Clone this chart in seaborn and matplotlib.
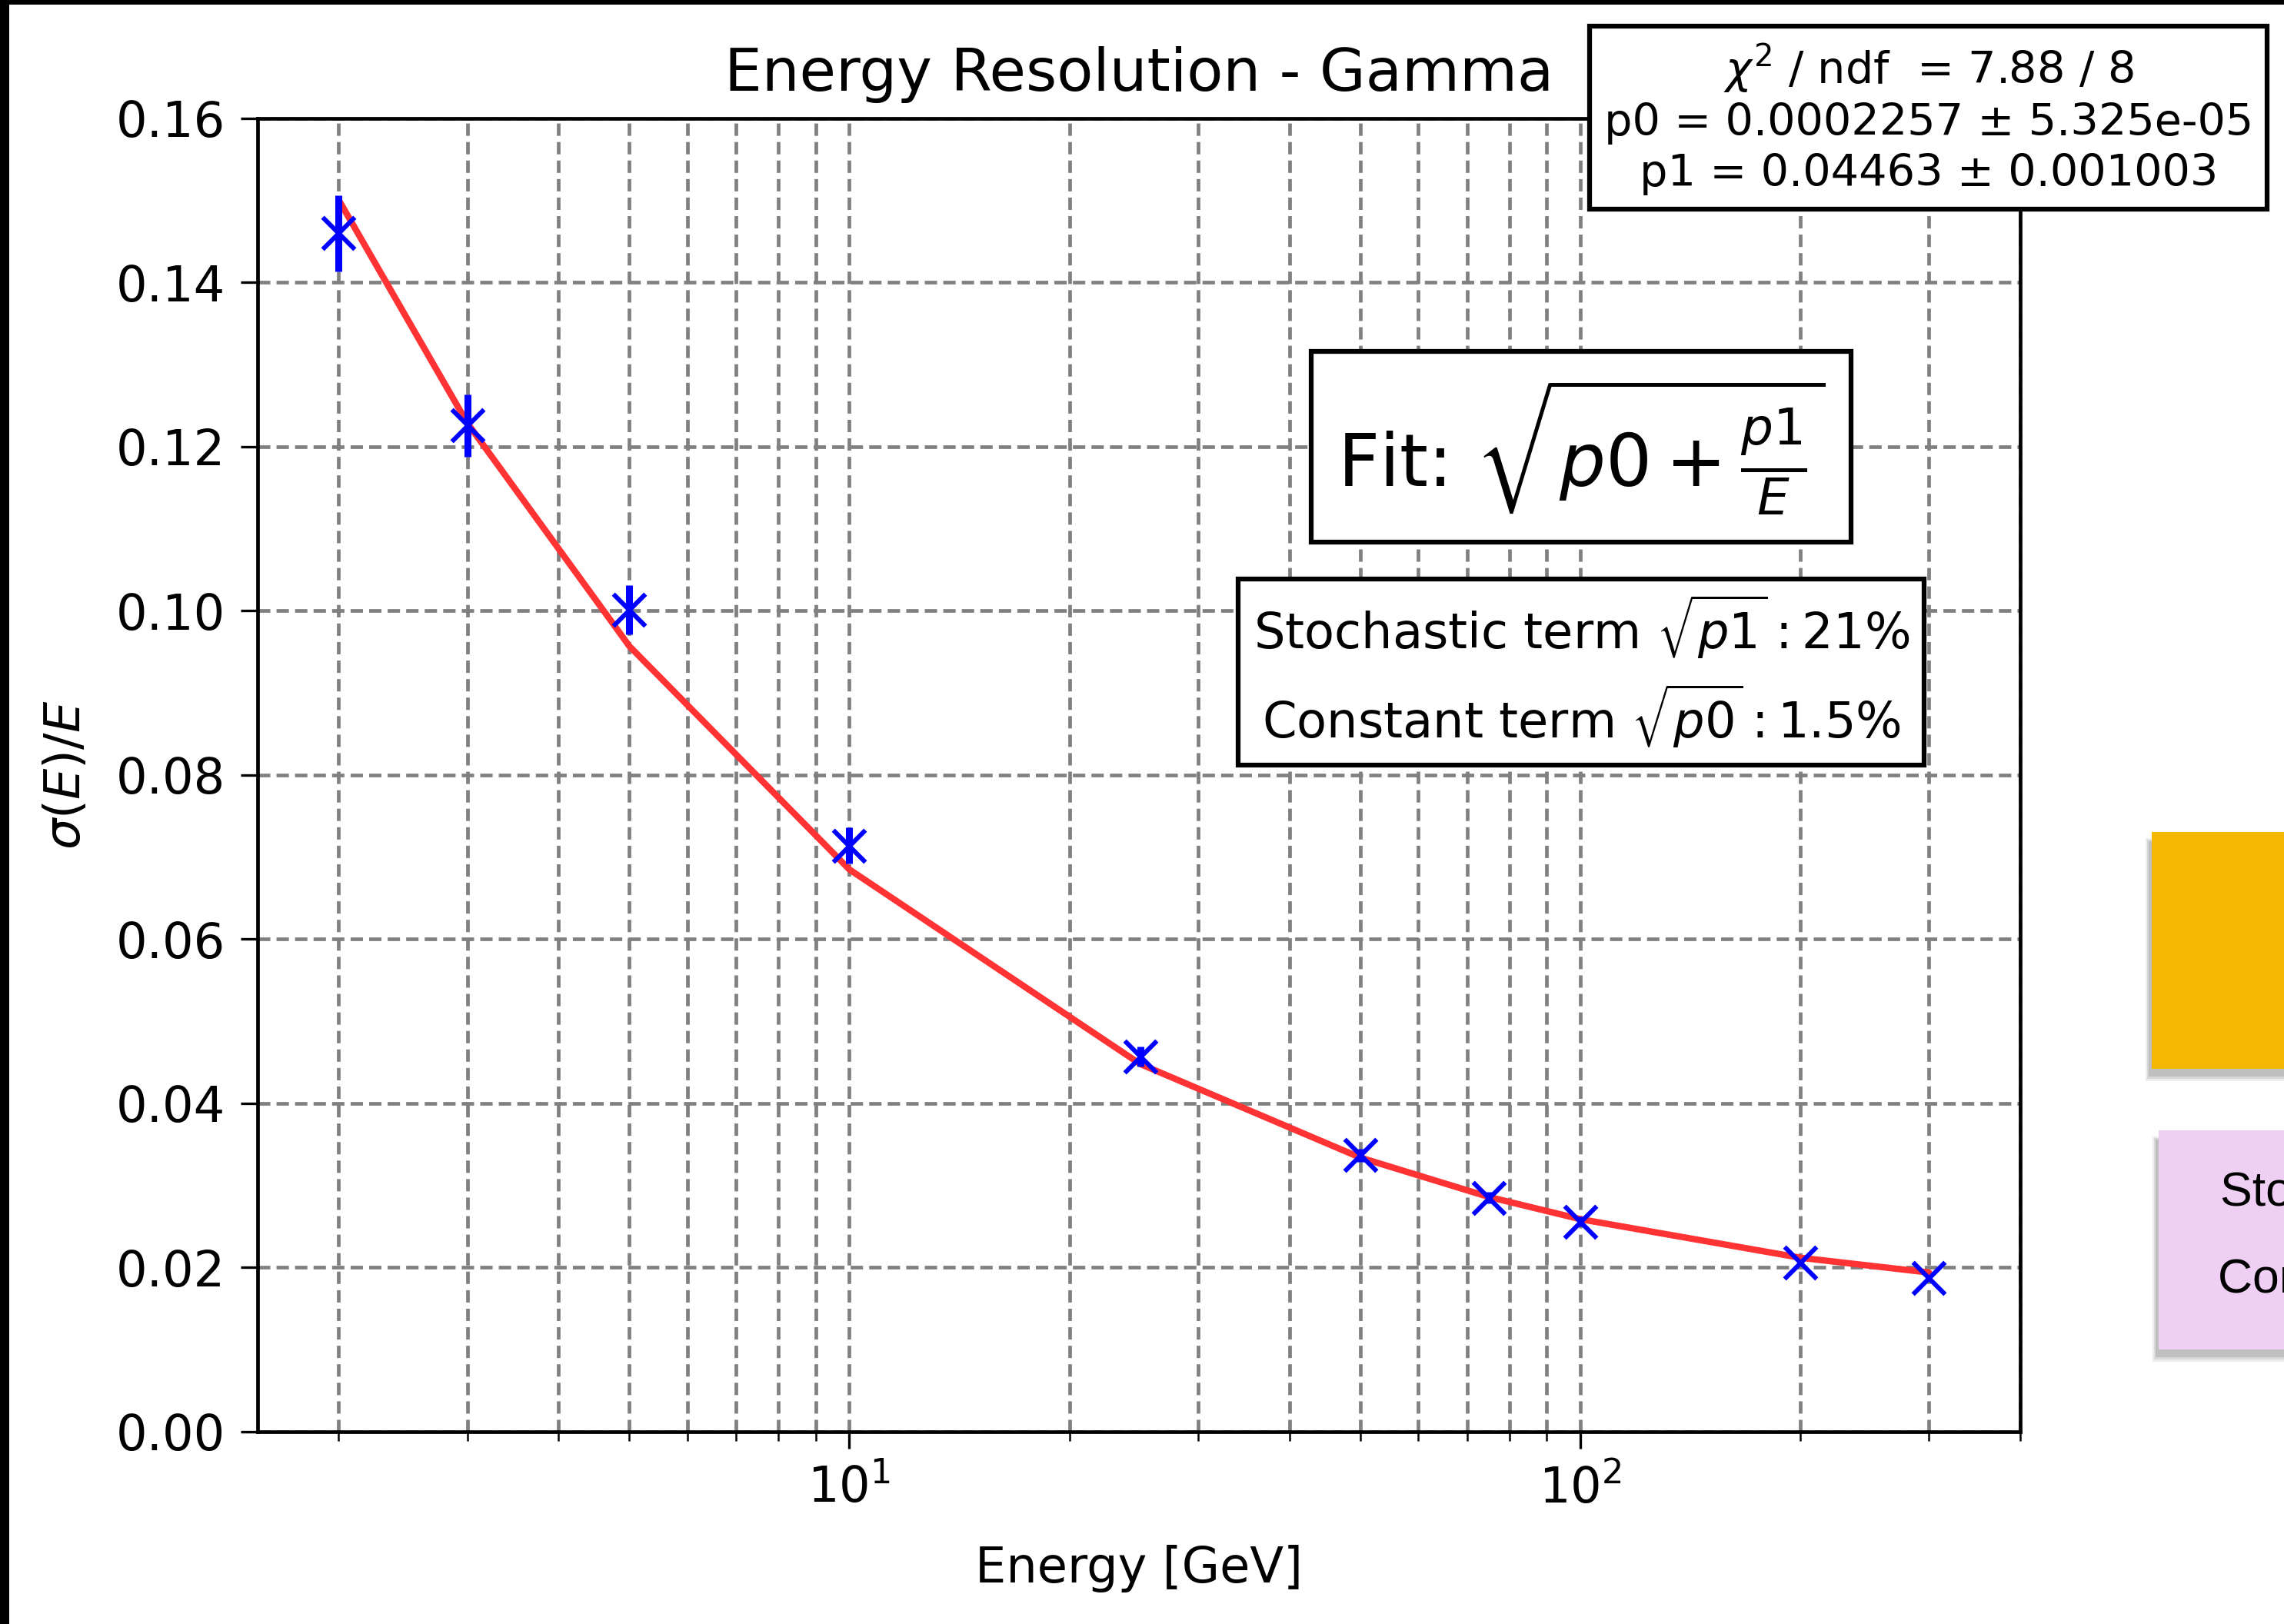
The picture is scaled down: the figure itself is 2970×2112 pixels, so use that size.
import numpy as np
import matplotlib
matplotlib.use("Agg")
import matplotlib.pyplot as plt
import seaborn as sns
from matplotlib.patches import Rectangle

# data
energy = [2, 3, 5, 10, 25, 50, 75, 100, 200, 300]
resolution = [0.1460, 0.1226, 0.1001, 0.0714, 0.0457, 0.0337, 0.0285, 0.0256, 0.0206, 0.0187]
res_err = [0.0046, 0.0038, 0.0030, 0.0022, 0.0012, 0.0008, 0.0007, 0.0006, 0.0004, 0.0003]
fit_curve = [0.1501, 0.1229, 0.0957, 0.0685, 0.0448, 0.0334, 0.0286, 0.0259, 0.0212, 0.0194]
y_ticks = [0.00, 0.02, 0.04, 0.06, 0.08, 0.10, 0.12, 0.14, 0.16]

stats_lines = [r"$\chi^2$ / ndf  = 7.88 / 8",
               "p0 = 0.0002257 ± 5.325e-05",
               "p1 = 0.04463 ± 0.001003"]
fit_label = r"Fit: $\sqrt{p0 + \frac{p1}{E}}$"
term_lines = [r"Stochastic term $\sqrt{p1}:21\%$",
              r"Constant term $\sqrt{p0}:1.5\%$"]
side_lines = ["Stochastic term", "Constant term"]

sns.set_style("white")
plt.rcParams['font.family'] = ['DejaVu Sans']
plt.rcParams['mathtext.fontset'] = 'dejavusans'
for key in ['text.color', 'axes.labelcolor', 'xtick.color', 'ytick.color']:
    plt.rcParams[key] = 'black'

fig = plt.figure(figsize=(29.7, 21.12), dpi=100)
fig.patch.set_facecolor('white')
ax = fig.add_axes([0.1128, 0.1184, 0.8845 - 0.1128, 0.9271 - 0.1184])

# fit curve and measured points
sns.lineplot(x=energy, y=fit_curve, color='#ff3333', linewidth=6, sort=False,
             estimator=None, ax=ax, zorder=3)
ax.errorbar(energy, resolution, yerr=res_err, fmt='none', ecolor='blue',
            elinewidth=6.5, capsize=0, zorder=4)
sns.scatterplot(x=energy, y=resolution, marker='x', color='blue', s=30 ** 2,
                linewidth=4.3, ax=ax, zorder=5)

ax.set_xscale('log')
ax.set_xlim(1.55, 400)
ax.set_ylim(0, 0.16)
ax.set_yticks(y_ticks)

grid_style = dict(color='gray', linestyle=(0, (3.4, 1.7)), linewidth=3.4)
ax.grid(True, which='both', axis='x', **grid_style)
ax.grid(True, which='major', axis='y', **grid_style)

for sp in ax.spines.values():
    sp.set_linewidth(3.4)
    sp.set_color('black')
ax.tick_params(which='major', length=15.6, width=2.4, pad=15, labelsize=46,
               direction='out', bottom=True, left=True)
ax.tick_params(which='minor', length=8.6, width=1.8, direction='out', bottom=True)

ax.set_title('Energy Resolution - Gamma', fontsize=55.5, pad=26)
ax.set_xlabel('Energy [GeV]', fontsize=46, labelpad=30)
ax.set_ylabel(r'$\sigma(E)/E$', fontsize=46, labelpad=24)

box = dict(boxstyle='square,pad=0.32', facecolor='white', edgecolor='black', linewidth=4.5)
ax.text(0.948, 1.0, '\n'.join(stats_lines), transform=ax.transAxes, ha='center',
        va='center', multialignment='center', fontsize=41.3, linespacing=1.24,
        bbox=box, zorder=10)
ax.text(0.751, 0.750, fit_label, transform=ax.transAxes, ha='center', va='center',
        fontsize=68, bbox=dict(box, boxstyle='square,pad=0.36'), zorder=10)
ax.text(0.751, 0.5785, '\n'.join(term_lines), transform=ax.transAxes, ha='center',
        va='center', multialignment='center', fontsize=46, linespacing=1.38,
        bbox=dict(box, boxstyle='square,pad=0.3'), zorder=10)

# black frame of the screenshot
fig.patches.append(Rectangle((0, 0), 12 / 2970, 1, transform=fig.transFigure,
                             facecolor='black', edgecolor='none', zorder=20))
fig.patches.append(Rectangle((0, 1 - 6 / 2112), 1, 6 / 2112, transform=fig.transFigure,
                             facecolor='black', edgecolor='none', zorder=20))

# parts of slide boxes at the right edge
def px_rect(x0, y0, x1, y1):
    return (x0 / 2970, 1 - y1 / 2112), (x1 - x0) / 2970, (y1 - y0) / 2112

for (x0, y0, x1, y1, col) in [(2798, 1082, 2990, 1390, '#f5b802'),
                              (2807, 1470, 2990, 1755, '#efd0f4')]:
    for k, a in enumerate([0.12, 0.18, 0.25]):
        xy, w, h = px_rect(x0 - 8 + 2 * k, y0 + 8 + 2 * k, x1, y1 + 16 - 3 * k)
        fig.patches.append(Rectangle(xy, w, h, transform=fig.transFigure,
                                     facecolor='#777777', alpha=a, edgecolor='none', zorder=1))
    xy, w, h = px_rect(x0, y0, x1, y1)
    fig.patches.append(Rectangle(xy, w, h, transform=fig.transFigure,
                                 facecolor=col, edgecolor='none', zorder=2))

fig.text(2887 / 2970, 1 - 1567 / 2112, side_lines[0], fontsize=45,
         family=['Liberation Sans', 'DejaVu Sans'], color='black', va='baseline')
fig.text(2884 / 2970, 1 - 1682 / 2112, side_lines[1], fontsize=45,
         family=['Liberation Sans', 'DejaVu Sans'], color='black', va='baseline')

fig.savefig('out.png', dpi=100)
